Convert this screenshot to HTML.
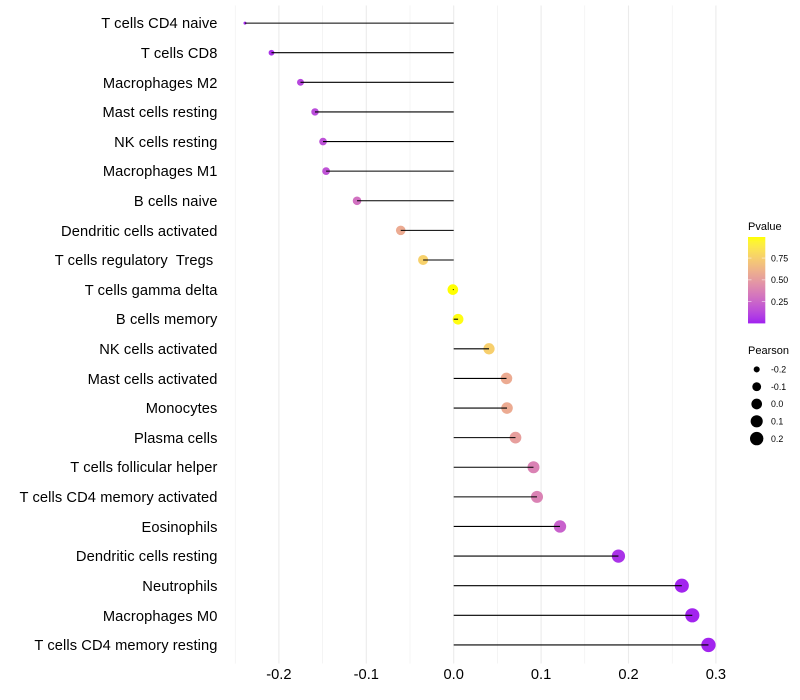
<!DOCTYPE html>
<html lang="en">
<head>
<meta charset="utf-8">
<title>Lollipop chart of immune cell correlation</title>
<style>
html,body{margin:0;padding:0;background:#fff;}
svg{display:block;font-family:"Liberation Sans",Arial,sans-serif;}
text{white-space:pre;}
</style>
</head>
<body>
<svg id="chart" width="800" height="700" viewBox="0 0 800 700" xmlns="http://www.w3.org/2000/svg">
<defs><linearGradient id="pvalue-gradient" x1="0" y1="1" x2="0" y2="0"></linearGradient></defs>
<rect x="0" y="0" width="800" height="700" fill="#ffffff"/>
<g id="grid"></g>
<g id="points"></g>
<g id="stems"></g>
<g id="ylabels"></g>
<g id="xlabels"></g>
<g id="legend-p">
<text x="748" y="230" font-size="11" fill="#000">Pvalue</text>
<rect id="colorbar" x="748" y="237" width="17.3" height="86.4" fill="url(#pvalue-gradient)"/>
</g>
<g id="legend-s">
<text x="748" y="354" font-size="11" fill="#000">Pearson</text>
</g>
</svg>
<script>
var categories = ["T cells CD4 naive","T cells CD8","Macrophages M2","Mast cells resting","NK cells resting","Macrophages M1","B cells naive","Dendritic cells activated","T cells regulatory  Tregs ","T cells gamma delta","B cells memory","NK cells activated","Mast cells activated","Monocytes","Plasma cells","T cells follicular helper","T cells CD4 memory activated","Eosinophils","Dendritic cells resting","Neutrophils","Macrophages M0","T cells CD4 memory resting"];
var pearson = [-0.2388,-0.2085,-0.1753,-0.1587,-0.1495,-0.146,-0.1106,-0.0606,-0.035,-0.001,0.005,0.0404,0.0604,0.061,0.0707,0.0913,0.0953,0.1216,0.1885,0.261,0.273,0.2915];
var pvalue = [0.02,0.05,0.12,0.14,0.16,0.17,0.3,0.58,0.77,1.0,0.99,0.76,0.58,0.58,0.52,0.38,0.38,0.23,0.05,0.01,0.01,0.01];
var xTicks = [-0.2,-0.1,0.0,0.1,0.2,0.3];
var xTickLabels = ["-0.2","-0.1","0.0","0.1","0.2","0.3"];
var xMinorTicks = [-0.25,-0.15,-0.05,0.05,0.15,0.25];
var pTicks = [0.25,0.5,0.75];
var pTickLabels = ["0.25","0.50","0.75"];
var sizeBreaks = [-0.2,-0.1,0.0,0.1,0.2];
var sizeLabels = ["-0.2","-0.1","0.0","0.1","0.2"];

var NS = "http://www.w3.org/2000/svg";
var sizeMin = Math.min.apply(null, pearson);
var sizeMax = Math.max.apply(null, pearson);
function xScale(v){ return 453.7 + v * 874; }
function yScale(i){ return 23.1 + i * 29.61; }
function rScale(v){
  var t = (v - sizeMin) / (sizeMax - sizeMin);
  return 1.5 + 5.7 * Math.sqrt(Math.max(0, t));
}
function pY(p){ return 323.6 - p * 87.4; }

function toLab(rgb){
  var c = rgb.map(function(u){ u/=255; return u>0.04045?Math.pow((u+0.055)/1.055,2.4):u/12.92; });
  var X=(0.4124*c[0]+0.3576*c[1]+0.1805*c[2])/0.95047;
  var Y=0.2126*c[0]+0.7152*c[1]+0.0722*c[2];
  var Z=(0.0193*c[0]+0.1192*c[1]+0.9505*c[2])/1.08883;
  function f(t){ return t>0.008856?Math.cbrt(t):7.787*t+16/116; }
  return [116*f(Y)-16,500*(f(X)-f(Y)),200*(f(Y)-f(Z))];
}
function fromLab(l){
  var fy=(l[0]+16)/116, fx=fy+l[1]/500, fz=fy-l[2]/200;
  function g(t){ return t*t*t>0.008856?t*t*t:(t-16/116)/7.787; }
  var X=g(fx)*0.95047, Y=g(fy), Z=g(fz)*1.08883;
  var r=3.2406*X-1.5372*Y-0.4986*Z, gg=-0.9689*X+1.8758*Y+0.0415*Z, b=0.0557*X-0.2040*Y+1.0570*Z;
  return [r,gg,b].map(function(u){
    u=u>0.0031308?1.055*Math.pow(u,1/2.4)-0.055:12.92*u;
    return Math.round(Math.min(1,Math.max(0,u))*255);
  });
}
var labLow = toLab([160,32,240]);
var labHigh = toLab([255,255,0]);
function colorScale(p){
  var t = Math.min(1, Math.max(0, p));
  var m = [0,1,2].map(function(k){ return labLow[k] + (labHigh[k]-labLow[k])*t; });
  return "rgb(" + fromLab(m).join(",") + ")";
}

var grid = document.getElementById("grid");
xMinorTicks.forEach(function(v){
  var l = document.createElementNS(NS,"line");
  
  
  l.setAttribute("x1",xScale(v)); l.setAttribute("x2",xScale(v));
  l.setAttribute("y1",5.5); l.setAttribute("y2",663.5);
  l.setAttribute("stroke","#ebebeb"); l.setAttribute("stroke-width",0.53);
  grid.appendChild(l);
});
xTicks.forEach(function(v){
  var l = document.createElementNS(NS,"line");
  
  
  l.setAttribute("x1",xScale(v)); l.setAttribute("x2",xScale(v));
  l.setAttribute("y1",5.5); l.setAttribute("y2",663.5);
  l.setAttribute("stroke","#ebebeb"); l.setAttribute("stroke-width",1.07);
  grid.appendChild(l);
});

var pointsG = document.getElementById("points");
var stemsG = document.getElementById("stems");
var yG = document.getElementById("ylabels");
categories.forEach(function(name,i){
  var c = document.createElementNS(NS,"circle");
  
  
  c.setAttribute("cx",xScale(pearson[i])); c.setAttribute("cy",yScale(i));
  c.setAttribute("r",rScale(pearson[i])); c.setAttribute("fill",colorScale(pvalue[i]));
  pointsG.appendChild(c);
  var s = document.createElementNS(NS,"line");
  
  
  s.setAttribute("x1",xScale(0)); s.setAttribute("x2",xScale(pearson[i]));
  s.setAttribute("y1",yScale(i)); s.setAttribute("y2",yScale(i));
  s.setAttribute("stroke","#000"); s.setAttribute("stroke-width",1.07);
  stemsG.appendChild(s);
  var t = document.createElementNS(NS,"text");
  
  
  t.setAttribute("x",217.5); t.setAttribute("y",Math.round(yScale(i)+5.2));
  t.setAttribute("text-anchor","end"); t.setAttribute("font-size",14.67); t.setAttribute("fill","#000");
  t.setAttribute("letter-spacing",0.1);
  t.textContent = name;
  yG.appendChild(t);
});

var xG = document.getElementById("xlabels");
xTicks.forEach(function(v,i){
  var t = document.createElementNS(NS,"text");
  
  
  t.setAttribute("x",xScale(v)); t.setAttribute("y",679);
  t.setAttribute("text-anchor","middle"); t.setAttribute("font-size",14.67); t.setAttribute("fill","#000");
  t.textContent = xTickLabels[i];
  xG.appendChild(t);
});

var grad = document.getElementById("pvalue-gradient");
for (var k = 0; k <= 20; k++) {
  var st = document.createElementNS(NS,"stop");
  st.setAttribute("offset",k/20);
  st.setAttribute("stop-color",colorScale(k/20));
  grad.appendChild(st);
}
var legP = document.getElementById("legend-p");
pTicks.forEach(function(p,i){
  var y = pY(p);
  [[748,751.5],[761.8,765.3]].forEach(function(seg){
    var m = document.createElementNS(NS,"line");
    
    
    m.setAttribute("x1",seg[0]); m.setAttribute("x2",seg[1]);
    m.setAttribute("y1",y); m.setAttribute("y2",y);
    m.setAttribute("stroke","#fff"); m.setAttribute("stroke-width",0.5);
    legP.appendChild(m);
  });
  var t = document.createElementNS(NS,"text");
  
  
  t.setAttribute("x",771); t.setAttribute("y",y+3.2);
  t.setAttribute("font-size",8.8); t.setAttribute("fill","#000");
  t.textContent = pTickLabels[i];
  legP.appendChild(t);
});

var legS = document.getElementById("legend-s");
sizeBreaks.forEach(function(v,i){
  var y = 369.4 + i * 17.3;
  var c = document.createElementNS(NS,"circle");
  
  
  c.setAttribute("cx",756.7); c.setAttribute("cy",y);
  c.setAttribute("r",rScale(v)); c.setAttribute("fill","#000");
  legS.appendChild(c);
  var t = document.createElementNS(NS,"text");
  
  
  t.setAttribute("x",771); t.setAttribute("y",y+3.2);
  t.setAttribute("font-size",8.8); t.setAttribute("fill","#000");
  t.textContent = sizeLabels[i];
  legS.appendChild(t);
});
</script>
</body>
</html>
